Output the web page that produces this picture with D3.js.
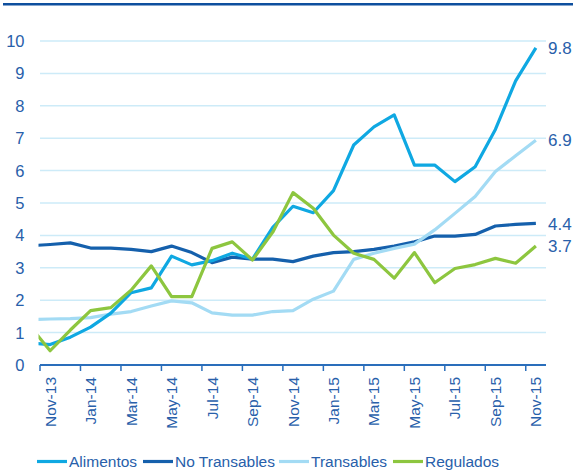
<!DOCTYPE html>
<html><head><meta charset="utf-8">
<script src="https://cdn.jsdelivr.net/npm/d3@7"></script>
<style>body{margin:0;background:#fff}svg{display:block}text{font-family:"Liberation Sans",Arial,sans-serif}</style>
</head><body><svg id="c" width="573" height="475"></svg>
<script>
// Months (Oct-13 is a lead-in point, clipped at the plot's left edge)
const months = ["Oct-13","Nov-13","Dec-13","Jan-14","Feb-14","Mar-14","Apr-14","May-14","Jun-14","Jul-14","Aug-14","Sep-14","Oct-14","Nov-14","Dec-14","Jan-15","Feb-15","Mar-15","Apr-15","May-15","Jun-15","Jul-15","Aug-15","Sep-15","Oct-15","Nov-15"];
const tickLabels = ["Nov-13","Jan-14","Mar-14","May-14","Jul-14","Sep-14","Nov-14","Jan-15","Mar-15","May-15","Jul-15","Sep-15","Nov-15"];
const yTicks = [0,1,2,3,4,5,6,7,8,9,10];
const alimentos     = [0.68,0.63,0.86,1.17,1.6,2.23,2.38,3.36,3.09,3.22,3.45,3.27,4.25,4.9,4.7,5.38,6.79,7.35,7.72,6.17,6.17,5.66,6.12,7.27,8.77,9.79];
const noTransables  = [3.68,3.72,3.77,3.61,3.61,3.57,3.5,3.67,3.47,3.16,3.33,3.27,3.27,3.19,3.36,3.47,3.5,3.57,3.67,3.8,3.98,3.98,4.03,4.29,4.34,4.37];
const transables    = [1.4,1.42,1.43,1.46,1.57,1.65,1.82,1.98,1.92,1.61,1.54,1.54,1.65,1.68,2.03,2.28,3.26,3.45,3.6,3.73,4.17,4.68,5.2,5.97,6.46,6.94];
const regulados     = [1.2,0.44,1.08,1.68,1.77,2.31,3.06,2.11,2.11,3.6,3.8,3.24,4.1,5.32,4.84,4.01,3.45,3.26,2.68,3.47,2.54,2.98,3.1,3.29,3.14,3.67];
const endLabels = ["9.8","4.4","6.9","3.7"];
const seriesNames = ["Alimentos","No Transables","Transables","Regulados"];
const colors = ["#0FA8E2","#1560AC","#A3DBF4","#8DC63F"];
const textColor = "#2860AA";

const svg = d3.select("#c");
const L = 40, R = 546, T = 41, B = 365;
const shown = months.slice(1);
const xb = d3.scaleBand().domain(shown).range([L, R]);
const bw = xb.bandwidth();
const xPos = (m, i) => i === 0 ? xb(shown[0]) - bw/2 : xb(m) + bw/2;
const y = d3.scaleLinear().domain([0,10]).range([B, T]);

// top rule
svg.append("rect").attr("x",3).attr("y",3).attr("width",570).attr("height",2.5).attr("fill","#0E4F9E");

// gridlines
svg.append("g").selectAll("line").data(yTicks.filter(d=>d>0)).join("line")
  .attr("x1",L).attr("x2",R).attr("y1",d=>y(d)).attr("y2",d=>y(d))
  .attr("stroke","#CDEBF8").attr("stroke-width",1.5);

// y labels
svg.append("g").selectAll("text").data(yTicks).join("text")
  .attr("x",24.5).attr("y",d=>y(d)).attr("dy","0.36em").attr("text-anchor","end")
  .attr("font-size",16.5).attr("fill",textColor).text(d=>d);

// x axis
const gx = svg.append("g").attr("transform",`translate(0,${B})`);
gx.append("line").attr("x1",L).attr("x2",R).attr("stroke","#2A6EBB").attr("stroke-width",2);
const tickPos = shown.filter((m,i)=>i%2===0);
gx.selectAll("line.t").data(tickPos).join("line").attr("class","t")
  .attr("x1",d=>xb(d)).attr("x2",d=>xb(d)).attr("y1",0).attr("y2",6)
  .attr("stroke","#2A6EBB").attr("stroke-width",1.5);
gx.selectAll("text").data(tickLabels).join("text")
  .attr("transform",d=>`translate(${xb(d)+bw/2+5.5},12) rotate(-90)`)
  .attr("text-anchor","end").attr("font-size",15.5).attr("fill",textColor).text(d=>d);

// clip
svg.append("clipPath").attr("id","clip").append("rect").attr("x",L-1.5).attr("y",0).attr("width",R-L+20).attr("height",B);

const all = [alimentos,noTransables,transables,regulados];
const line = d3.line().x((d,i)=>xPos(months[i],i)).y(d=>y(d));
const drawOrder = [1,2,0,3];
const gl = svg.append("g").attr("clip-path","url(#clip)");
drawOrder.forEach(k=>{
  gl.append("path").attr("d",line(all[k])).attr("fill","none")
    .attr("stroke",colors[k]).attr("stroke-width",3.2).attr("stroke-linejoin","round");
});

// end labels
all.forEach((s,k)=>{
  svg.append("text").attr("x",548).attr("y",y(s[s.length-1])).attr("dy","0.36em")
    .attr("font-size",17).attr("fill",textColor).text(endLabels[k]);
});

// legend
const legX = [37,143,279,393];
seriesNames.forEach((n,k)=>{
  svg.append("line").attr("x1",legX[k]).attr("x2",legX[k]+30).attr("y1",461.5).attr("y2",461.5)
    .attr("stroke",colors[k]).attr("stroke-width",3.2);
  svg.append("text").attr("x",legX[k]+32).attr("y",461.5).attr("dy","0.36em")
    .attr("font-size",15.5).attr("fill",textColor).text(n);
});
</script></body></html>
